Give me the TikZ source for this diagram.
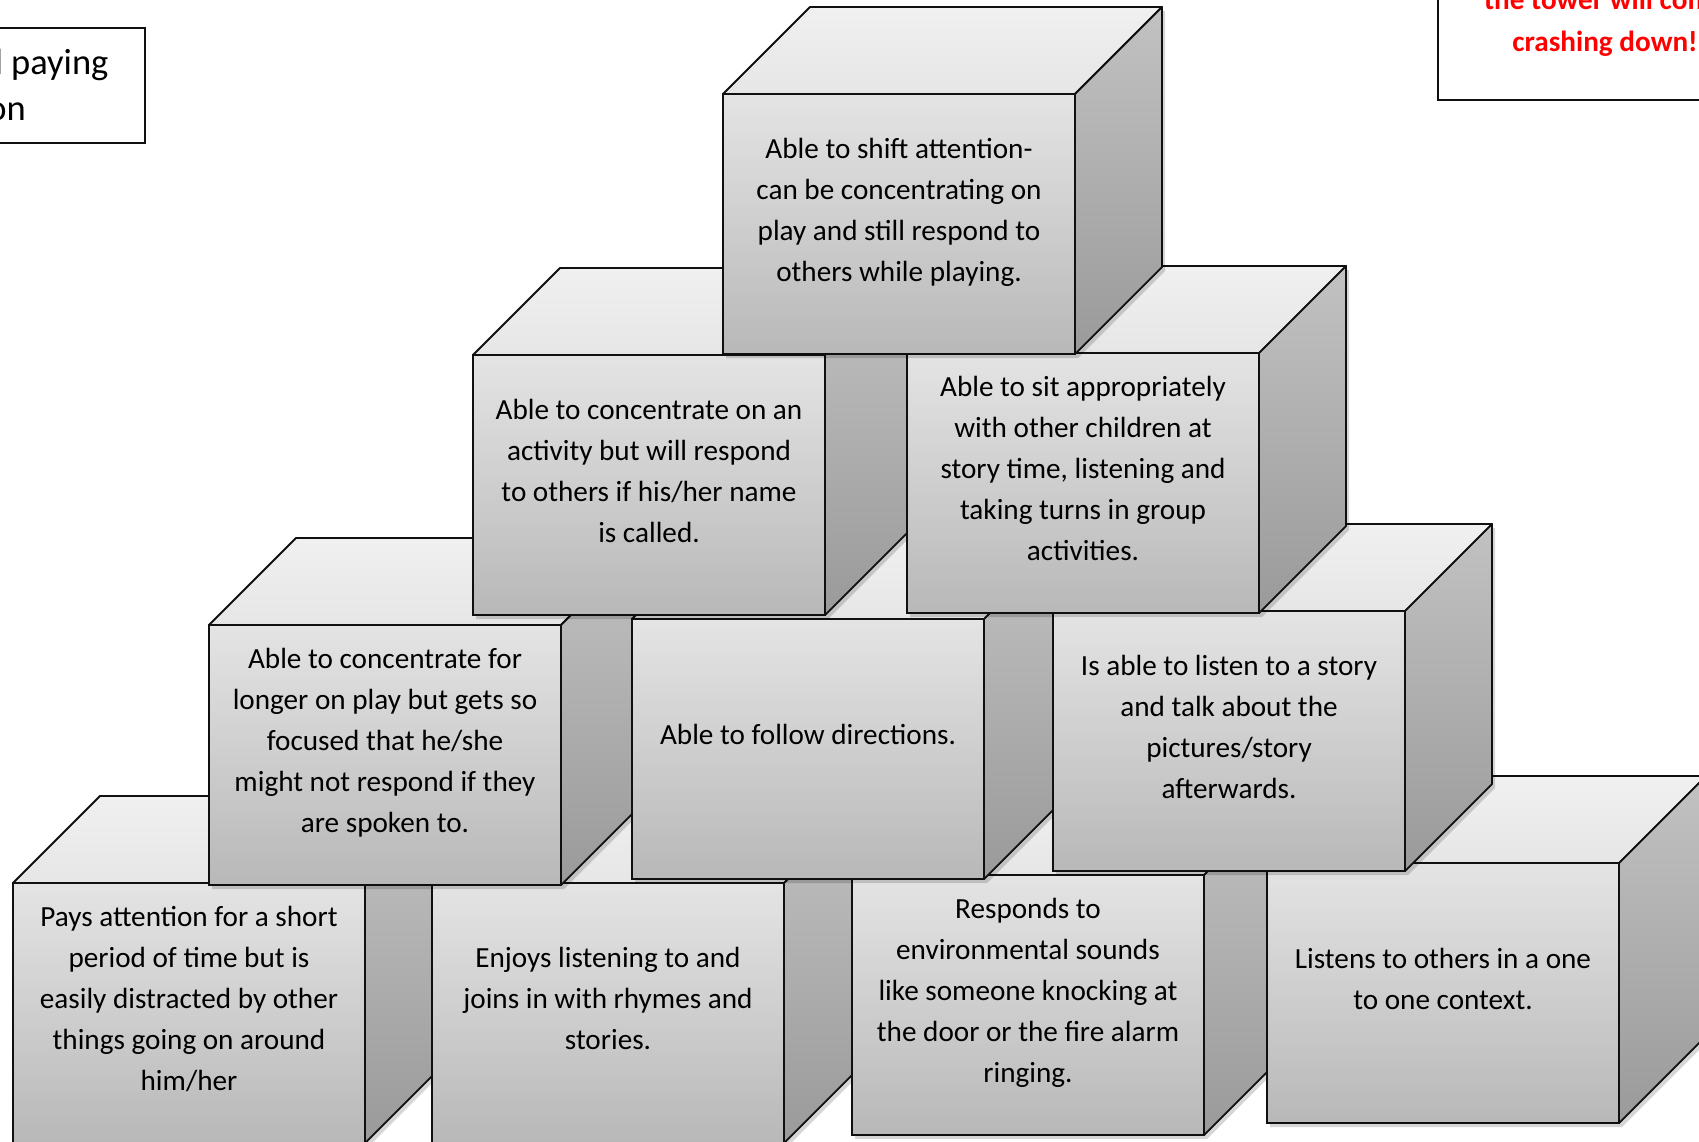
\documentclass[tikz,border=0pt]{standalone}
\usepackage{fontspec}
\setmainfont{Carlito}
\definecolor{frontT}{HTML}{E4E4E4}
\definecolor{frontB}{HTML}{B8B8B8}
\definecolor{topT}{HTML}{F0F0F0}
\definecolor{topB}{HTML}{E6E6E6}
\definecolor{sideT}{HTML}{C2C2C2}
\definecolor{sideB}{HTML}{9A9A9A}
\definecolor{edge}{HTML}{101010}
\definecolor{warnred}{HTML}{FF0000}
\tikzset{
  front/.style={draw=edge, line width=1.8pt, minimum width=352pt, minimum height=260pt,
    inner sep=0pt, outer sep=0pt, top color=frontT, bottom color=frontB},
  topface/.style={draw=edge, line width=1.8pt, line join=round, top color=topT, bottom color=topB},
  sideface/.style={draw=edge, line width=1.8pt, line join=round, top color=sideT, bottom color=sideB},
  shadowface/.style={fill=black, opacity=0.16},
  cubetext/.style={align=center, inner sep=0pt, text=black,
    font=\fontsize{29.2}{41}\selectfont},
  labelbox/.style={draw=edge, line width=1.8pt, fill=white}
}
% #1 name, #2 x of front face left, #3 y of front face top (image coordinates), #4 text
\newcommand\tcube[4]{%
  \fill[shadowface] ({#2+3},{#3+4}) -- ++(87,-87) -- ++(352,0) -- ++(0,260) -- ++(-87,87) -- ++(-352,0) -- cycle;
  \node[front] (#1) at ({#2+176},{#3+130}) {};
  \path[topface] (#1.north west) -- (#1.north east) -- ++(87,-87) -- ++(-352,0) -- cycle;
  \path[sideface] (#1.north east) -- ++(87,-87) -- ++(0,260) -- (#1.south east) -- cycle;
  \node[cubetext] (#1t) at ([yshift=12.6pt]#1.center) {#4};
}
\begin{document}
\begin{tikzpicture}[x=1pt, y=-1pt]
\useasboundingbox (0,0) rectangle (1699,1141);
\clip (0,0) rectangle (1699,1141);
% bottom row
\tcube{F}{13}{883}{\strut Pays attention for a short\\period of time but is\\easily distracted by other\\things going on around\\him/her\strut}
\tcube{G}{432}{883}{\strut Enjoys listening to and\\joins in with rhymes and\\stories.\strut}
\tcube{H}{852}{875}{\strut Responds to\\environmental sounds\\like someone knocking at\\the door or the fire alarm\\ringing.\strut}
\tcube{I}{1267}{863}{\strut Listens to others in a one\\to one context.\strut}
% third row
\tcube{C}{209}{625}{\strut Able to concentrate for\\longer on play but gets so\\focused that he/she\\might not respond if they\\are spoken to.\strut}
\tcube{D}{632}{619}{\strut Able to follow directions.\strut}
\tcube{E}{1053}{611}{\strut Is able to listen to a story\\and talk about the\\pictures/story\\afterwards.\strut}
% second row
\tcube{A}{473}{355}{\strut Able to concentrate on an\\activity but will respond\\to others if his/her name\\is called.\strut}
\tcube{B}{907}{353}{\strut Able to sit appropriately\\with other children at\\story time, listening and\\taking turns in group\\activities.\strut}
% top
\tcube{T}{723}{94}{\strut Able to shift attention-\\can be concentrating on\\play and still respond to\\others while playing.\strut}
% partial label boxes
\node[labelbox, minimum width=375pt, minimum height=115pt, inner sep=0pt, outer sep=0pt] (lbox) at (-42.5,85.5) {};
\node[align=center, inner sep=0pt, font=\fontsize{36.5}{46}\selectfont] (ltext) at (-42,88.5) {\strut Listening and paying\\attention\strut};
\node[labelbox, minimum width=334pt, minimum height=190pt, inner sep=0pt, outer sep=0pt] (rbox) at (1605,5) {};
\node[align=center, inner sep=0pt, text=warnred, font=\fontsize{29.2}{42}\selectfont\bfseries] (rtext) at (1605,22) {\strut the tower will come\\crashing down!\strut};
\end{tikzpicture}
\end{document}
